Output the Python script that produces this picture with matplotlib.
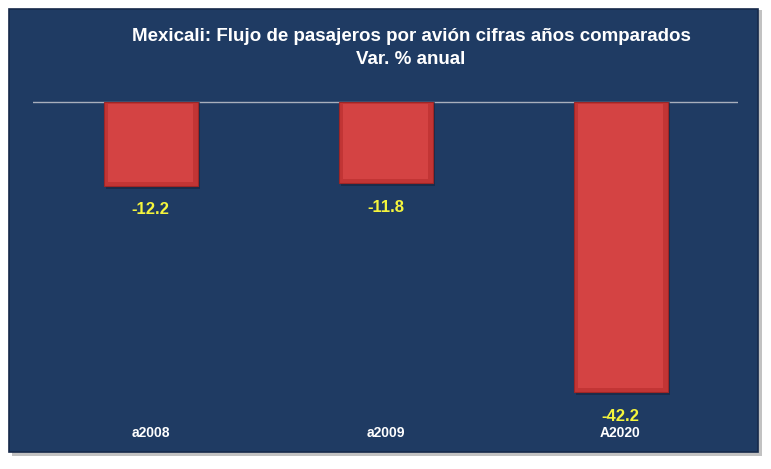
import matplotlib.pyplot as plt
from matplotlib.patches import Rectangle

categories = ["a2008", "a2009", "A2020"]
values = [-12.2, -11.8, -42.2]
title = "Mexicali: Flujo de pasajeros por avión cifras años comparados\nVar. % anual"

W, H = 771, 469
fig = plt.figure(figsize=(W / 100, H / 100), dpi=100)
fig.patch.set_facecolor("white")

# panel shadow + panel
shadow = Rectangle((12 / W, 1 - 456 / H), 750 / W, 446 / H, transform=fig.transFigure,
                   facecolor="#9a9a9a", edgecolor="none", alpha=0.6, zorder=0)
panel = Rectangle((9 / W, 1 - 452 / H), 749 / W, 443 / H, transform=fig.transFigure,
                  facecolor="#1F3B63", edgecolor="#16294a", linewidth=1.2, zorder=0.5)
fig.patches.extend([shadow, panel])

# axes: top at zero line (y=100px), bottom at y=420px
ax_left, ax_right = 33, 738
ax_top, ax_bot = 100, 420
ax = fig.add_axes([ax_left / W, 1 - ax_bot / H, (ax_right - ax_left) / W, (ax_bot - ax_top) / H])
ax.set_zorder(2)
ax.set_facecolor("none")
px_per_unit = 292 / 42.2
ax.set_ylim(-(ax_bot - ax_top) / px_per_unit, 0.3)
ax.set_xlim(-0.5, len(categories) - 0.5)
for s in ax.spines.values():
    s.set_visible(False)
ax.set_xticks([])
ax.set_yticks([])

ax.axhline(0, color="#A8AFBD", linewidth=1.0, zorder=1)

x = range(len(categories))
width = 0.4
# shadow under bars
ax.bar([i + 0.012 for i in x], [v - 0.4 for v in values], width=width,
       color="#14243d", alpha=0.6, zorder=2)
ax.bar(x, values, width=width, color="#C23535", edgecolor="#9E2626", linewidth=0.8, zorder=3)
# bevel highlight
ax.bar(x, [v + 0.9 for v in values], bottom=-0.3, width=width * 0.9,
       color="#D44343", edgecolor="none", zorder=3.5)

for i, v in enumerate(values):
    ax.text(i, v - 2.4, f"{v:.1f}", ha="center", va="top", color="#F5F53C",
            fontsize=12, fontweight="bold", family="Liberation Sans", zorder=5)

for i, c in enumerate(categories):
    fig.text((ax_left + (i + 0.5) * (ax_right - ax_left) / 3) / W, 1 - 433 / H, c,
             ha="center", va="center", color="white", fontsize=10, fontweight="bold",
             family="Liberation Sans", zorder=5)

fig.text(411 / W, 1 - 48 / H, title, ha="center", va="center", color="white",
         fontsize=13.5, fontweight="bold", family="Liberation Sans", linespacing=1.5,
         zorder=5)

fig.savefig("out.png", dpi=100, facecolor=fig.get_facecolor())
